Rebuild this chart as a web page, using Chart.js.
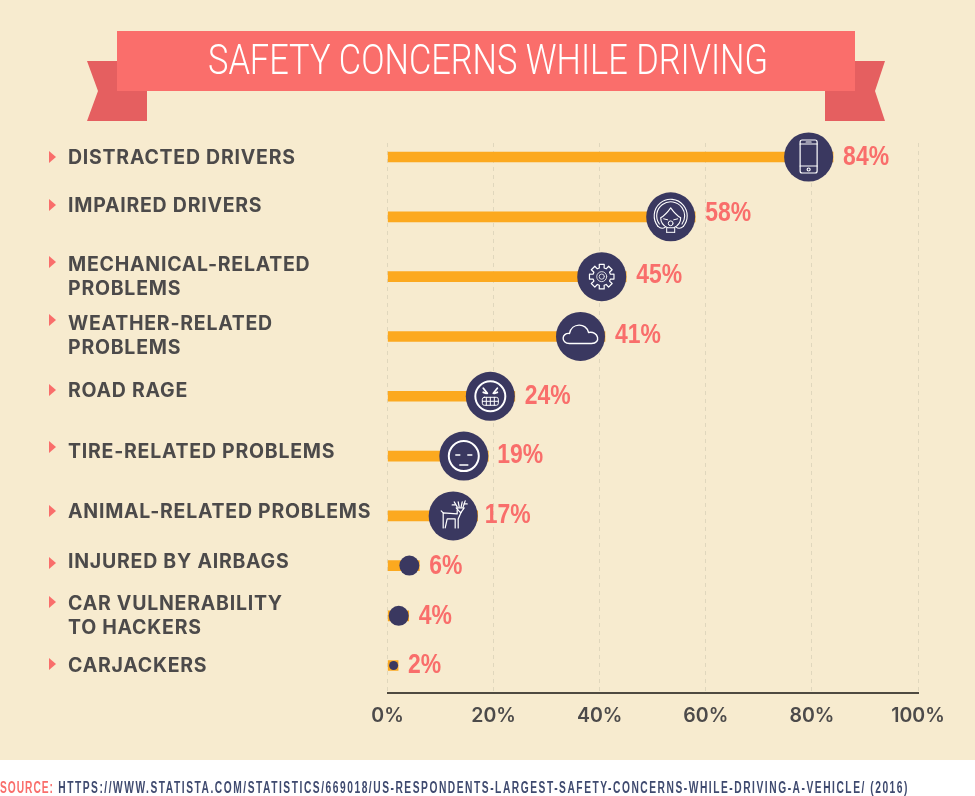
<!DOCTYPE html>
<html><head><meta charset="utf-8">
<script src="https://cdn.jsdelivr.net/npm/chart.js@4/dist/chart.umd.min.js"></script>
<style>
html,body{margin:0;padding:0;background:#fff;width:975px;height:796px;overflow:hidden}
#wrap{position:relative;width:975px;height:796px;overflow:hidden}
canvas{position:absolute;left:0;top:0}
#title{position:absolute;left:208px;top:30px;line-height:60px;color:#fff;font:300 42px/60px Roboto;white-space:nowrap;transform-origin:0 0}
#source{position:absolute;left:0;top:779px;font:700 16px/18px "Liberation Sans";letter-spacing:2.4px;color:#3f4a6f;white-space:nowrap;transform-origin:0 0}
#source b{color:#f96e6b;font-weight:700;letter-spacing:1.5px}
</style></head><body>
<div id="wrap"><canvas id="c" width="975" height="796"></canvas>
<div id="title">SAFETY CONCERNS WHILE DRIVING</div>
<div id="source"><b>SOURCE:</b> HTTPS://WWW.STATISTA.COM/STATISTICS/669018/US-RESPONDENTS-LARGEST-SAFETY-CONCERNS-WHILE-DRIVING-A-VEHICLE/ (2016)</div>
</div>
<script>
const categories=[['DISTRACTED DRIVERS'],['IMPAIRED DRIVERS'],['MECHANICAL-RELATED','PROBLEMS'],['WEATHER-RELATED','PROBLEMS'],['ROAD RAGE'],['TIRE-RELATED PROBLEMS'],['ANIMAL-RELATED PROBLEMS'],['INJURED BY AIRBAGS'],['CAR VULNERABILITY','TO HACKERS'],['CARJACKERS']];
const values=[84,58,45,41,24,19,17,6,4,2];
const rowSlots=[0,1,2,3,4,5,6,6.83,7.67,8.5];
const tickValues=[0,20,40,60,80,100];
const icons=['phone','woman','gear','cloud','angry','sleepy','deer',null,null,null];
const markerRadius=[24.5,24.5,24.5,24.5,24.5,24.5,24.5,10,10,4.5];
const labelY=[158,206,265,324,391,452,512,562,604,666];
const arrowY=[157,205,262,320,390,447,511,563,602,664];
const valueY=[158,214,276,336,397,456,516,567,617,666];
const valueGap=[10,10,10,10,10,9,7,10,10,10];
const PX_PER_UNIT=5.305, LINE=24;

function fit(id,w){const el=document.getElementById(id);el.style.transform='scaleX('+(w/el.getBoundingClientRect().width)+')';}

function drawIcon(ctx,name,x,y){
  ctx.save();ctx.translate(x,y);ctx.strokeStyle='#fff';ctx.fillStyle='#fff';ctx.lineWidth=1.2;ctx.lineCap='round';ctx.lineJoin='round';
  const L=(a,b,c,d)=>{ctx.beginPath();ctx.moveTo(a,b);ctx.lineTo(c,d);ctx.stroke();};
  const C=(a,b,r,s=0,e=Math.PI*2)=>{ctx.beginPath();ctx.arc(a,b,r,s,e);ctx.stroke();};
  if(name==='phone'){
    ctx.beginPath();ctx.roundRect(-8.5,-17,17,33,2);ctx.stroke();
    L(-8.5,-13,8.5,-13);L(-8.5,9,8.5,9);L(-2.5,-15,2.5,-15);C(0,12.5,1.5);
  }else if(name==='woman'){
    ctx.lineWidth=1.1;
    ctx.beginPath();ctx.arc(0,-1,16.5,Math.PI*0.78,Math.PI*2.22);ctx.stroke();
    ctx.beginPath();ctx.arc(0,-1,14,Math.PI*0.8,Math.PI*2.2);ctx.stroke();
    ctx.beginPath();ctx.moveTo(-12.7,9.5);ctx.quadraticCurveTo(-9,13,-5,10);ctx.moveTo(12.7,9.5);ctx.quadraticCurveTo(9,13,5,10);ctx.stroke();
    ctx.beginPath();ctx.moveTo(-10,1);ctx.quadraticCurveTo(-5,-2,0,-9);ctx.quadraticCurveTo(5,-2,10,1);
    ctx.quadraticCurveTo(10,8,3,11);ctx.lineTo(-3,11);ctx.quadraticCurveTo(-10,8,-10,1);ctx.stroke();
    ctx.lineWidth=1;L(-7,2,-3,3);L(7,2,3,3);C(0,6.5,2.4);
    L(-4,11,-4,15.5);L(4,11,4,15.5);L(-4,15.5,4,15.5);
  }else if(name==='gear'){
    ctx.beginPath();
    for(let i=0;i<8;i++){
      const a=i*Math.PI/4;
      [[-.27,9],[-.2,12.5],[.2,12.5],[.27,9]].forEach(([d,r],j)=>{const px=Math.cos(a+d)*r,py=Math.sin(a+d)*r;(i===0&&j===0)?ctx.moveTo(px,py):ctx.lineTo(px,py);});
    }
    ctx.closePath();ctx.stroke();
    ctx.lineWidth=.8;C(0,0,5);C(0,0,2.6);
  }else if(name==='cloud'){
    ctx.lineWidth=1.4;
    ctx.beginPath();ctx.moveTo(-11,7);
    ctx.bezierCurveTo(-20,7,-19,-4,-11,-3);
    ctx.bezierCurveTo(-9,-14,6,-14,8,-4);
    ctx.bezierCurveTo(18,-6,21,7,11,7);
    ctx.closePath();ctx.stroke();
  }else if(name==='angry'){
    ctx.lineWidth=2;C(0,0,15);
    ctx.lineWidth=1.8;L(-7,-8,-3,-3);L(7,-8,3,-3);L(-7,-4,-4,-3);L(7,-4,4,-3);
    ctx.lineWidth=1;ctx.beginPath();ctx.roundRect(-8,1,16,8,2);ctx.stroke();
    L(-8,5,8,5);[-4,0,4].forEach(v=>L(v,1,v,9));
  }else if(name==='sleepy'){
    ctx.lineWidth=2;C(0,0,15);
    ctx.lineWidth=1.5;L(-8,-1,-4,-1);L(4,-1,8,-1);L(-4,9,4,9);
  }else if(name==='deer'){
    ctx.lineWidth=1.2;
    ctx.beginPath();
    ctx.moveTo(-10,-3);ctx.lineTo(4,-2);ctx.lineTo(4,-6);
    ctx.moveTo(-10,-3);ctx.lineTo(-10,12);ctx.moveTo(-8,12);ctx.lineTo(-6,3);ctx.lineTo(2,3);ctx.lineTo(2,12);ctx.moveTo(5,12);ctx.lineTo(5,3);ctx.lineTo(8,-4);
    ctx.stroke();
    L(-10,-3,-12,-5);
    ctx.beginPath();ctx.moveTo(3,-8);ctx.lineTo(11,-8);ctx.lineTo(7.5,-3);ctx.closePath();ctx.stroke();
    L(4,-9,1,-14);L(2,-11,-1,-11);L(10,-9,12,-15);L(11,-12,14,-12);L(6,-9,5,-14);L(8,-9,9,-14);
  }
  ctx.restore();
}

const decor={id:'decor',
  beforeDraw(chart){
    const c=chart.ctx;c.save();
    c.fillStyle='#fff';c.fillRect(0,0,975,796);
    c.fillStyle='#f7ebcf';c.fillRect(0,0,975,760);
    c.fillStyle='#e55f60';
    c.beginPath();c.moveTo(87,61);c.lineTo(147,61);c.lineTo(147,121);c.lineTo(87,121);c.lineTo(98,91);c.closePath();c.fill();
    c.beginPath();c.moveTo(885,61);c.lineTo(825,61);c.lineTo(825,121);c.lineTo(885,121);c.lineTo(875,91);c.closePath();c.fill();
    c.fillStyle='#fa6e6b';c.fillRect(117,31,738,60);
    c.restore();
  },
  afterDatasetsDraw(chart){
    const c=chart.ctx, x=chart.scales.x, pts=chart.getDatasetMeta(1).data;
    c.save();
    pts.forEach((p,i)=>{ if(icons[i]) drawIcon(c,icons[i],p.x,p.y); });
    categories.forEach((lines,i)=>{
      c.fillStyle='#f96e6b';c.beginPath();c.moveTo(49,arrowY[i]-6);c.lineTo(56,arrowY[i]);c.lineTo(49,arrowY[i]+6);c.closePath();c.fill();
      c.fillStyle='#4c4a4a';c.font='700 19.5px Inter';c.letterSpacing='0.75px';c.textAlign='left';c.textBaseline='middle';
      lines.forEach((t,j)=>c.fillText(t,68,labelY[i]+j*LINE));
    });
    c.letterSpacing='0px';
    c.fillStyle='#f96e6b';c.font='700 27px "Liberation Sans"';c.textBaseline='middle';
    values.forEach((v,i)=>{
      c.save();c.translate(x.getPixelForValue(v)+valueGap[i],valueY[i]);c.scale(.85,1);c.fillText(v+'%',0,0);c.restore();
    });
    c.restore();
  }
};

new Chart(document.getElementById('c'),{
  type:'bar',
  plugins:[decor],
  data:{datasets:[
    {type:'bar',order:2,indexAxis:'y',data:values.map((v,i)=>({x:v,y:rowSlots[i]})),backgroundColor:'#fca91f',barThickness:10,borderWidth:0},
    {type:'scatter',order:1,indexAxis:'x',clip:false,data:values.map((v,i)=>({x:v-markerRadius[i]/PX_PER_UNIT,y:rowSlots[i]})),
      pointRadius:markerRadius,pointHoverRadius:markerRadius,pointBackgroundColor:'#3a3860',pointBorderWidth:0}
  ]},
  options:{
    indexAxis:'y',responsive:false,animation:false,devicePixelRatio:1,
    layout:{padding:{left:387.5,top:143,right:57,bottom:0}},
    plugins:{legend:{display:false},tooltip:{enabled:false},title:{display:false}},
    scales:{
      x:{type:'linear',position:'bottom',min:0,max:100,offset:false,
        afterBuildTicks(s){s.ticks=tickValues.map(v=>({value:v}));},
        afterFit(s){s.height=103;},
        grid:{color:'#e0d7bd',lineWidth:1,drawTicks:false},
        border:{color:'#4f4a40',width:2,dash:[4,4],display:true},
        ticks:{padding:11,maxRotation:0,autoSkip:false,color:'#4c4a4a',font:{family:'Inter',size:19.5,weight:'600'},callback:v=>v+'%'}
      },
      y:{type:'linear',display:false,reverse:true,offset:false,min:-0.234,max:8.96,grid:{display:false}}
    }
  }
});
fit('title',560);fit('source',909);
</script>
</body></html>
